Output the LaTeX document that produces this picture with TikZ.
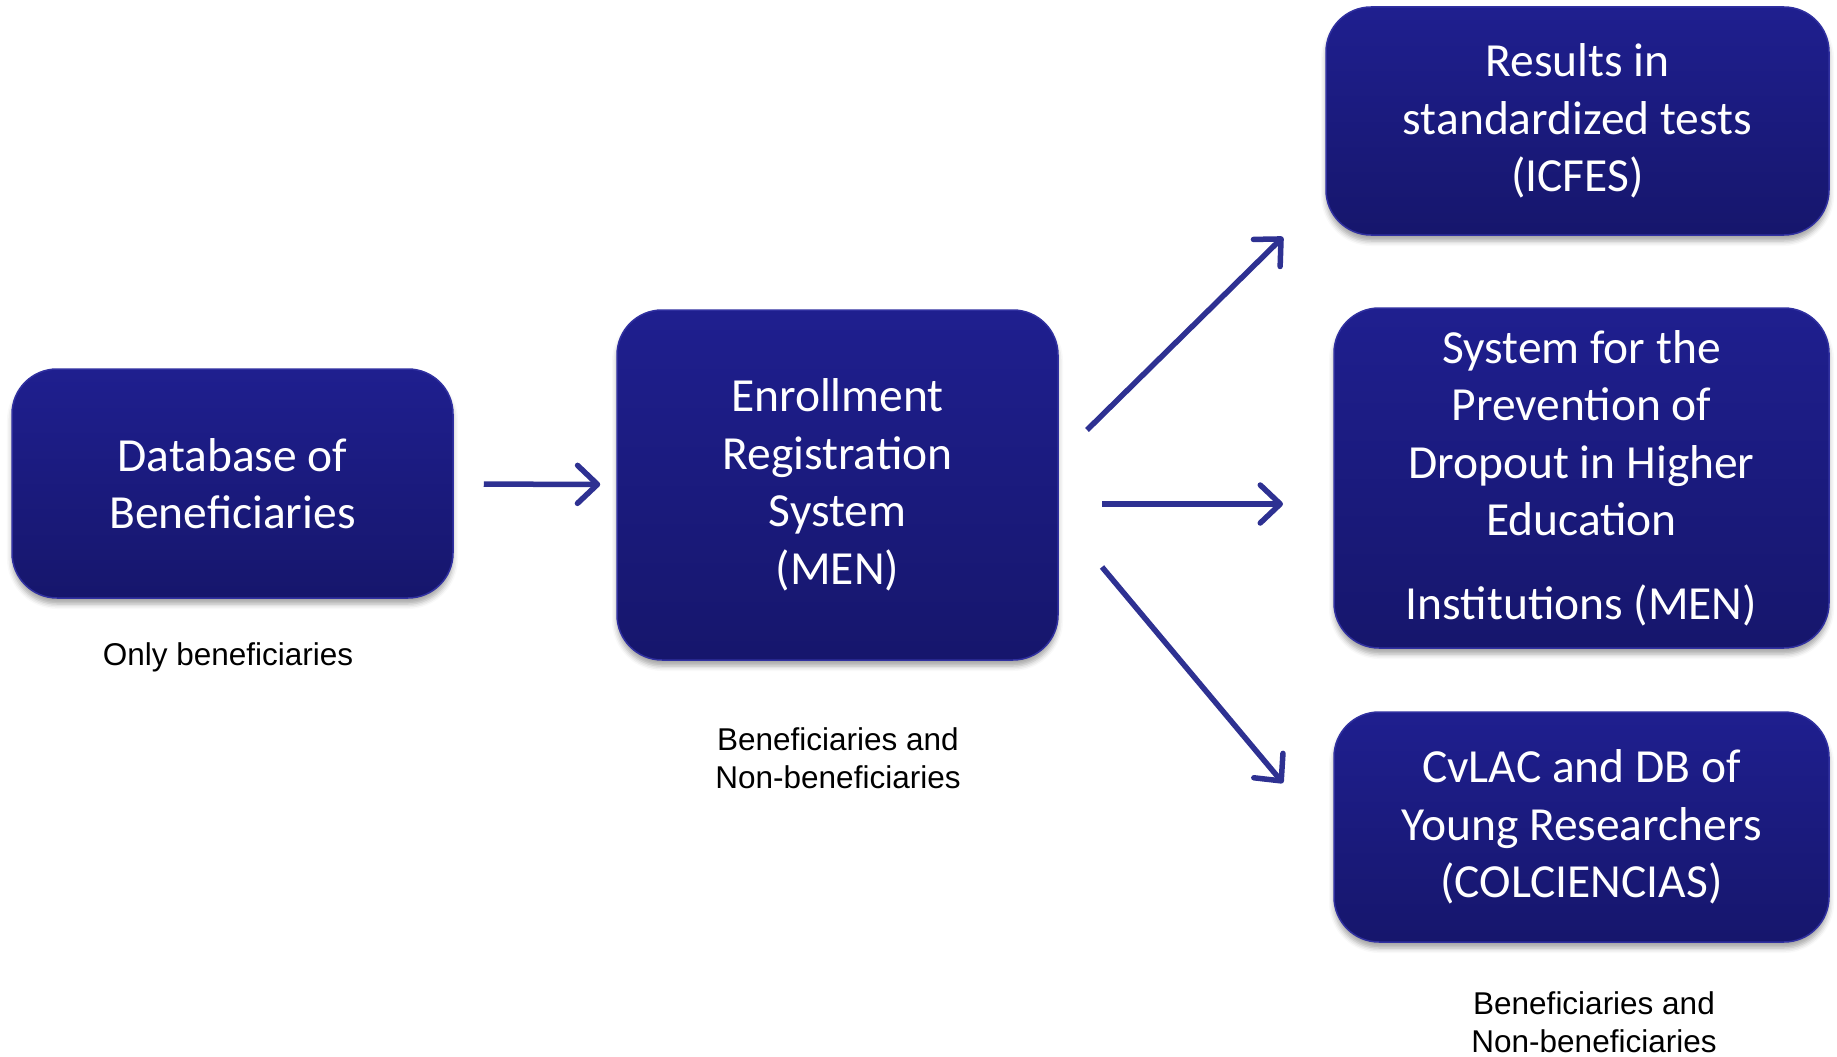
\documentclass[tikz,border=0pt]{standalone}
\usepackage{fontspec}
\setmainfont{Carlito}
\newfontfamily\notefont{Liberation Sans}
\usetikzlibrary{arrows.meta,shadows.blur}

\definecolor{boxtop}{RGB}{31,31,143}
\definecolor{boxbottom}{RGB}{22,22,108}
\definecolor{boxline}{RGB}{48,48,160}
\definecolor{arrowblue}{RGB}{46,49,146}

\tikzset{
  stage/.style={draw=boxline, line width=1.5pt, rounded corners=45pt,
    top color=boxtop, bottom color=boxbottom, text=white, align=center,
    font=\fontsize{47.5}{57.5}\selectfont,
    blur shadow={shadow xshift=0pt, shadow yshift=-6pt,
      shadow blur radius=5pt, shadow opacity=35}},
  flow/.style={draw=arrowblue, line width=5.5pt,
    -{Straight Barb[length=20pt,width=38pt,round]}},
  note/.style={font=\notefont\fontsize{31.5}{38}\selectfont, align=center}
}

\begin{document}
\begin{tikzpicture}[x=1pt,y=-1pt]
 \useasboundingbox (0,0) rectangle (1837,1057);

 % source and registration system
 \node[stage, minimum width=441pt, minimum height=229pt] (db) at (232.5,483.5)
  {Database of\\Beneficiaries};
 \node[stage, minimum width=441pt, minimum height=350pt] (men) at (837.5,485)
  {Enrollment\\Registration\\System\\(MEN)};

 % linked sources
 \node[stage, minimum width=503pt, minimum height=228pt] (icfes) at (1577.5,121)
  {Results in\\standardized tests\\(ICFES)};
 \node[stage, minimum width=495pt, minimum height=340pt] (spadies) at (1581.5,478)
  {System for the\\Prevention of\\Dropout in Higher\\Education\\[26pt]Institutions (MEN)};
 \node[stage, minimum width=495pt, minimum height=230pt] (cvlac) at (1581.5,827)
  {CvLAC and DB of\\Young Researchers\\(COLCIENCIAS)};

 % notes under the boxes
 \node[note] (dbnote) at (228,657) {Only beneficiaries};
 \node[note] (mennote) at (838,758) {Beneficiaries and\\Non-beneficiaries};
 \node[note] (cvlacnote) at (1594,1022) {Beneficiaries and\\Non-beneficiaries};

 \draw[flow, shorten <=30pt, shorten >=16pt] (db) -- (men);
 \foreach \i/\sx/\sy/\tx/\ty in
  {1/1087/430/1283/237, 2/1102/504/1283/504, 3/1102/567/1283/783}
  {
    \coordinate (s\i) at (\sx,\sy);
    \coordinate (t\i) at (\tx,\ty);
    \draw[flow] (s\i) -- (t\i);
  }
\end{tikzpicture}
\end{document}
